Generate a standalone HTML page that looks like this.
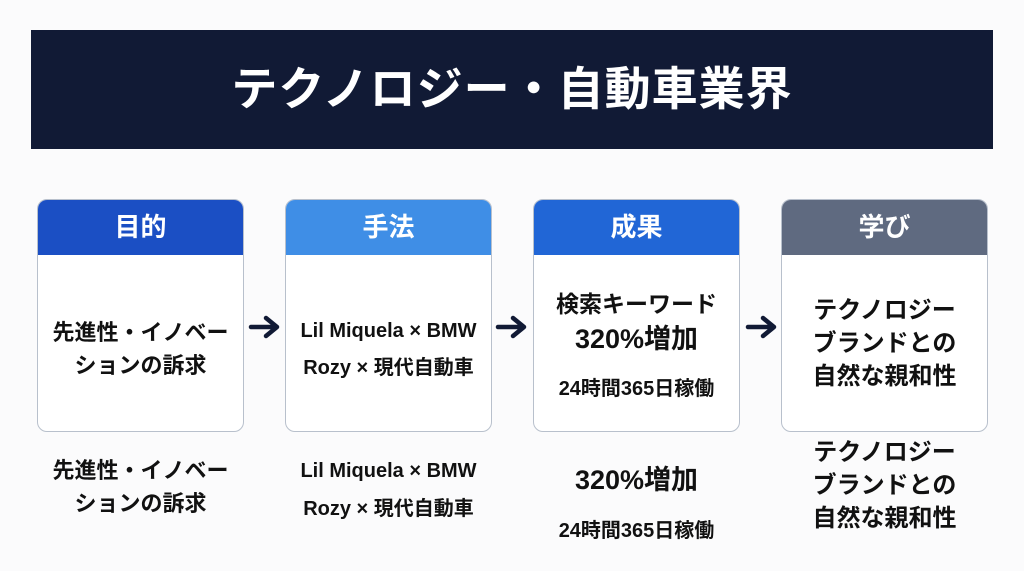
<!DOCTYPE html>
<html><head><meta charset="utf-8"><style>
body{margin:0;width:1024px;height:571px;background:#fbfbfc;font-family:"Liberation Sans","Noto Sans CJK JP",sans-serif;position:relative;overflow:hidden;color:#111}
.ban{position:absolute;left:31px;top:30px;width:962px;height:119px;background:#111a35;color:#fff;font-weight:bold;font-size:46px;text-align:center;line-height:119px;letter-spacing:1px}
.box{position:absolute;top:199px;width:205px;height:231px;border:1.5px solid #b8c0cc;border-radius:10px;background:#fff;overflow:hidden}
.hd{height:55px;color:#fff;font-weight:bold;font-size:26px;text-align:center;line-height:55px}
.t{position:absolute;left:0;width:100%;text-align:center;font-weight:bold;white-space:nowrap}
.ar{position:absolute;top:314px}
</style></head><body>
<div class="ban">テクノロジー・自動車業界</div>

<div class="box" style="left:37px"><div class="hd" style="background:#1b4fc4">目的</div>
<div class="t" style="top:116px;font-size:22px;line-height:33px">先進性・イノベー<br>ションの訴求</div></div>
<div class="box" style="left:285px"><div class="hd" style="background:#3f8ee6">手法</div>
<div class="t" style="top:113px;font-size:20px;line-height:37px">Lil Miquela × BMW<br>Rozy × 現代自動車</div></div>
<div class="box" style="left:533px"><div class="hd" style="background:#2166d6">成果</div>
<div class="t" style="top:89px;font-size:23px;line-height:30px">検索キーワード</div>
<div class="t" style="top:122px;font-size:27px;line-height:34px">320%増加</div>
<div class="t" style="top:175px;font-size:20px;line-height:28px">24時間365日稼働</div></div>
<div class="box" style="left:781px"><div class="hd" style="background:#5f6a80">学び</div>
<div class="t" style="top:94px;font-size:24px;line-height:33px">テクノロジー<br>ブランドとの<br>自然な親和性</div></div>

<svg class="ar" style="left:248px" width="34" height="26"><path d="M3 13H28M18 4L29 13L18 22" stroke="#111a35" stroke-width="4.5" fill="none" stroke-linecap="round" stroke-linejoin="round"/></svg>
<svg class="ar" style="left:495px" width="34" height="26"><path d="M3 13H28M18 4L29 13L18 22" stroke="#111a35" stroke-width="4.5" fill="none" stroke-linecap="round" stroke-linejoin="round"/></svg>
<svg class="ar" style="left:745px" width="34" height="26"><path d="M3 13H28M18 4L29 13L18 22" stroke="#111a35" stroke-width="4.5" fill="none" stroke-linecap="round" stroke-linejoin="round"/></svg>

<div class="t" style="left:37px;width:207px;top:454px;font-size:22px;line-height:33px">先進性・イノベー<br>ションの訴求</div>
<div class="t" style="left:285px;width:207px;top:452px;font-size:20px;line-height:38px">Lil Miquela × BMW<br>Rozy × 現代自動車</div>
<div class="t" style="left:533px;width:207px;top:463px;font-size:27px;line-height:34px">320%増加</div>
<div class="t" style="left:533px;width:207px;top:517px;font-size:20px;line-height:28px">24時間365日稼働</div>
<div class="t" style="left:781px;width:207px;top:436px;font-size:24px;line-height:33px">テクノロジー<br>ブランドとの<br>自然な親和性</div>
</body></html>
